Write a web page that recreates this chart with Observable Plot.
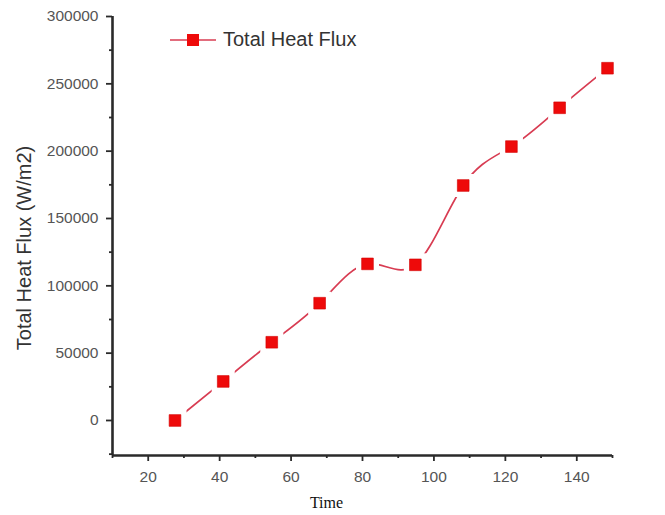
<!DOCTYPE html>
<html>
<head>
<meta charset="utf-8">
<script src="https://cdn.jsdelivr.net/npm/d3@7"></script>
<script src="https://cdn.jsdelivr.net/npm/@observablehq/plot@0.6"></script>
<style>
  html, body { margin: 0; padding: 0; background: #fff; }
  #wrap { position: relative; width: 665px; height: 515px; }
  #legend { position: absolute; left: 168px; top: 28px; display: flex; align-items: center;
            font-family: "Liberation Sans", Arial, sans-serif; font-size: 20px; color: #333; }
  #legend svg { margin-right: 5px; }
</style>
</head>
<body>
<div id="wrap"></div>
<script>
// Data
const time = [27.5, 41.0, 54.6, 68.0, 81.4, 94.8, 108.2, 121.7, 135.2, 148.6];
const flux = [0, 29000, 58100, 87100, 116300, 115600, 174500, 203400, 232200, 261600];
const seriesName = "Total Heat Flux";
const xTicks = [20, 40, 60, 80, 100, 120, 140];
const xMinorTicks = [10, 30, 50, 70, 90, 110, 130, 150];
const yTicks = [0, 50000, 100000, 150000, 200000, 250000, 300000];
const yMinorTicks = [-25000, 25000, 75000, 125000, 175000, 225000, 275000];
const xDomain = [10, 150];
const yDomain = [-26000, 300000];
const xLabel = "Time";
const yLabel = "Total Heat Flux (W/m2)";

const data = time.map((t, i) => ({time: t, flux: flux[i]}));

const lineColor = "#d83c52";
const markColor = "#ee0a0a";
const axisColor = "#2a2a2a";
const font = "'Liberation Sans', Arial, sans-serif";

const chart = Plot.plot({
  width: 665,
  height: 515,
  marginLeft: 112,
  marginRight: 53,
  marginTop: 16,
  marginBottom: 60,
  style: {fontFamily: font, background: "#fff"},
  x: {domain: xDomain},
  y: {domain: yDomain},
  marks: [
    // minor ticks
    Plot.axisX(xMinorTicks, {tickSize: 3, tickFormat: null, stroke: axisColor, strokeWidth: 1.8, label: null, text: null}),
    Plot.axisY(yMinorTicks, {tickSize: 3, tickFormat: null, stroke: axisColor, strokeWidth: 1.8, label: null, text: null}),
    // major ticks
    Plot.axisX(xTicks, {tickSize: 6, tickPadding: 9, fontSize: 15.5, color: "#555", stroke: axisColor, strokeWidth: 1.8, tickFormat: d3.format("d"), label: null}),
    Plot.axisY(yTicks, {tickSize: 6, tickPadding: 8, fontSize: 15.5, color: "#555", stroke: axisColor, strokeWidth: 1.8, tickFormat: d3.format("d"), label: null}),
    // axis lines
    Plot.ruleX([xDomain[0]], {stroke: axisColor, strokeWidth: 2.6}),
    Plot.ruleY([yDomain[0]], {stroke: axisColor, strokeWidth: 2.6}),
    // series
    Plot.line(data, {x: "time", y: "flux", curve: "natural", stroke: lineColor, strokeWidth: 1.7}),
    Plot.dot(data, {x: "time", y: "flux", symbol: "square", r: 13, fill: "#fff", stroke: "none"}),
    Plot.dot(data, {x: "time", y: "flux", symbol: "square", r: 6.6, fill: markColor, stroke: "#d40000", strokeWidth: 0.6}),
    // axis titles
    Plot.text([yLabel], {frameAnchor: "left", textAnchor: "middle", rotate: -90, dx: -88, dy: 12, fontSize: 20, fill: "#333", fontFamily: font}),
    Plot.text([xLabel], {frameAnchor: "bottom", dx: -36, dy: 52, fontSize: 16, fill: "#111", fontFamily: "'Liberation Serif', 'Times New Roman', serif"})
  ]
});

const wrap = document.getElementById("wrap");
wrap.appendChild(chart);

const legend = document.createElement("div");
legend.id = "legend";
legend.innerHTML = `<svg width="50" height="14"><line x1="2" y1="7" x2="48" y2="7" stroke="${lineColor}" stroke-width="1.7"/><rect x="19" y="1" width="12" height="12" fill="${markColor}"/></svg><span>${seriesName}</span>`;
wrap.appendChild(legend);
</script>
</body>
</html>
